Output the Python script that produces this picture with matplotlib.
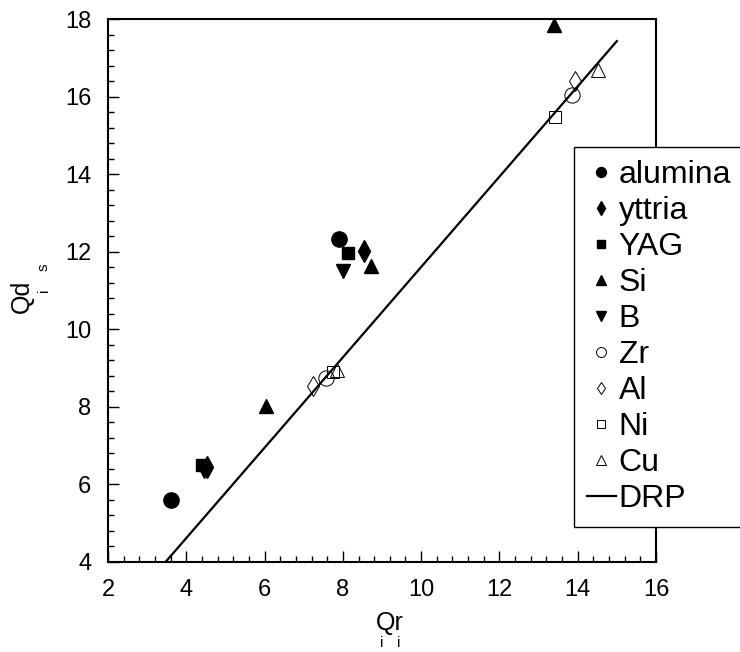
import matplotlib
matplotlib.use("Agg")
import matplotlib.pyplot as plt
from matplotlib.ticker import MultipleLocator

plt.rcParams['font.family'] = ['Liberation Sans', 'DejaVu Sans']

# data (Qr_i, Qd_is)
alumina_x = [3.60, 7.90]
alumina_y = [5.60, 12.33]
yttria_x = [4.52, 8.54]
yttria_y = [6.46, 12.03]
yag_x = [4.40, 8.14]
yag_y = [6.50, 11.96]
si_x = [6.03, 8.71, 13.40]
si_y = [8.02, 11.64, 17.84]
b_x = [4.45, 8.01]
b_y = [6.35, 11.51]
zr_x = [7.57, 13.85]
zr_y = [8.74, 16.04]
al_x = [7.23, 13.93]
al_y = [8.54, 16.40]
ni_x = [7.75, 13.42]
ni_y = [8.90, 15.48]
cu_x = [7.85, 14.53]
cu_y = [8.95, 16.68]
drp_x = [3.47, 15.0]
drp_y = [4.0, 17.43]

W, H = 740, 652

def fx(px):
    return px / W

def fy(py):
    return 1 - py / H

fig = plt.figure(figsize=(W / 100, H / 100), dpi=100)
ax = fig.add_axes([fx(108), fy(562), 548 / W, 543 / H])

ax.plot(alumina_x, alumina_y, 'o', color='black', ms=11, label='alumina', zorder=3)
ax.plot(yttria_x, yttria_y, 'd', color='black', ms=11, label='yttria', zorder=3)
ax.plot(yag_x, yag_y, 's', color='black', ms=9, label='YAG', zorder=3)
ax.plot(si_x, si_y, '^', color='black', ms=10, label='Si', zorder=3)
ax.plot(b_x, b_y, 'v', color='black', ms=10, label='B', zorder=3)
ax.plot(zr_x, zr_y, 'o', mfc='none', mec='black', mew=0.7, ms=11, label='Zr', zorder=3)
ax.plot(al_x, al_y, 'd', mfc='none', mec='black', mew=0.7, ms=10, label='Al', zorder=3)
ax.plot(ni_x, ni_y, 's', mfc='none', mec='black', mew=0.7, ms=8, label='Ni', zorder=3)
ax.plot(cu_x, cu_y, '^', mfc='none', mec='black', mew=0.7, ms=10, label='Cu', zorder=3)
ax.plot(drp_x, drp_y, '-', color='black', lw=1.6, label='DRP', zorder=2)

ax.set_xlim(2, 16)
ax.set_ylim(4, 18)
ax.xaxis.set_major_locator(MultipleLocator(2))
ax.yaxis.set_major_locator(MultipleLocator(2))
ax.xaxis.set_minor_locator(MultipleLocator(0.4))
ax.yaxis.set_minor_locator(MultipleLocator(0.4))
ax.tick_params(which='both', direction='in', top=False, right=False,
               labelsize=17, width=1)
ax.tick_params(which='major', length=8)
ax.tick_params(which='minor', length=4)
ax.tick_params(axis='x', which='major', pad=12)
ax.tick_params(axis='y', which='major', pad=12)
for sp in ax.spines.values():
    sp.set_linewidth(1.5)

# axis labels with subscripts set under the letters, as in the original
fig.text(fx(376), fy(630), 'Qr', fontsize=18, ha='left', va='baseline')
fig.text(fx(382), fy(647), 'i', fontsize=11, ha='center', va='baseline')
fig.text(fx(399), fy(647), 'i', fontsize=11, ha='center', va='baseline')
fig.text(fx(29), fy(313), 'Qd', fontsize=18, ha='left', va='baseline',
         rotation=90, rotation_mode='anchor')
fig.text(fx(48), fy(290), 'i', fontsize=11, ha='center', va='baseline',
         rotation=90, rotation_mode='anchor')
fig.text(fx(48), fy(267), 's', fontsize=11, ha='center', va='baseline',
         rotation=90, rotation_mode='anchor')

leg = fig.legend(loc='upper left', bbox_to_anchor=(fx(574), fy(147)),
                 fontsize=23, markerscale=0.65, frameon=True, fancybox=False,
                 edgecolor='black', handlelength=0.9, handletextpad=0.1,
                 labelspacing=0.19, borderpad=0.4, borderaxespad=0)
leg.get_frame().set_linewidth(1.0)
leg.get_frame().set_alpha(1)

fig.savefig('out.png', dpi=100)
